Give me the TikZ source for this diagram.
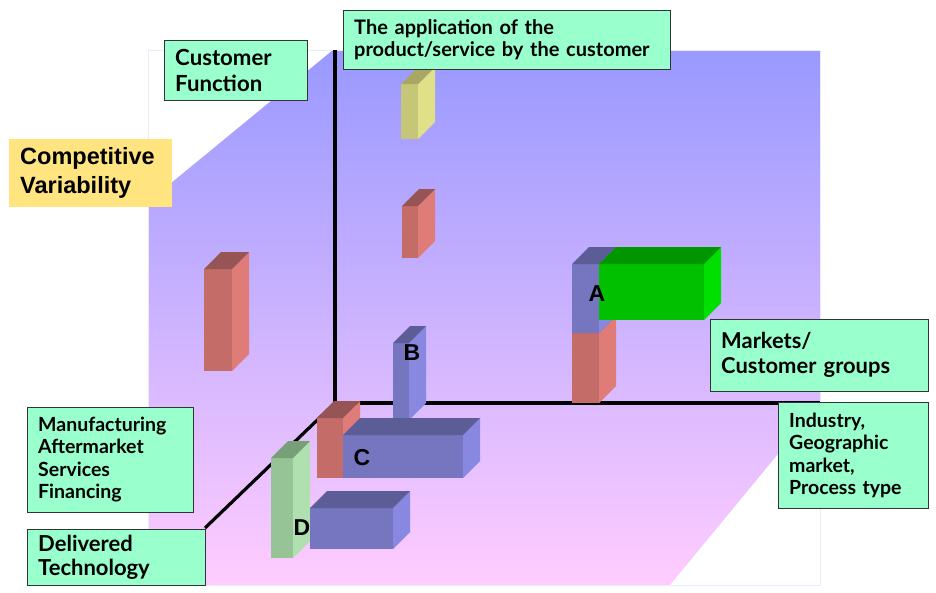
\documentclass[tikz,border=0pt]{standalone}
\usepackage{fontspec}
\usepackage{tikz}
\usetikzlibrary{calc}
\newfontfamily\boxfont{Lato}
\newfontfamily\arialfont{Liberation Sans}
\definecolor{boxgreen}{RGB}{153,255,204}
\definecolor{boxyellow}{RGB}{255,228,128}
\definecolor{wallblue}{RGB}{153,153,255}
\definecolor{floorpink}{RGB}{255,204,255}
\definecolor{redF}{RGB}{196,108,104}
\definecolor{redS}{RGB}{224,124,120}
\definecolor{redT}{RGB}{150,84,84}
\definecolor{blueF}{RGB}{117,117,192}
\definecolor{blueS}{RGB}{136,136,224}
\definecolor{blueT}{RGB}{92,92,150}
\definecolor{greenF}{RGB}{0,192,0}
\definecolor{greenS}{RGB}{0,224,0}
\definecolor{greenT}{RGB}{0,150,0}
\definecolor{yellowF}{RGB}{198,198,120}
\definecolor{yellowS}{RGB}{224,224,136}
\definecolor{yellowT}{RGB}{168,168,100}
\definecolor{mintF}{RGB}{150,196,150}
\definecolor{mintS}{RGB}{176,224,176}
\definecolor{mintT}{RGB}{120,160,120}
% front at (#1,#2), width #3, height #4, colour set #5
\newcommand{\drawcuboid}[5]{
    \fill[#5F] (#1, #2) rectangle ++(#3, #4);
    \fill[#5S] (#1+#3, #2) -- ++(17, -17) -- ++(0, #4) -- ++(-17, 17) -- cycle;
    \fill[#5T] (#1, #2) -- ++(17, -17) -- ++(#3, 0) -- ++(-17, 17) -- cycle;
}
\tikzset{
    gbox/.style={draw=black!80, fill=boxgreen, anchor=north west, align=left,
        inner xsep=11pt, inner ysep=0pt},
    letter/.style={font=\arialfont\bfseries\fontsize{23}{23}\selectfont, inner sep=0pt}
}

\begin{document}
\begin{tikzpicture}[x=1pt, y=-1pt]
    \useasboundingbox (0, 0) rectangle (936, 592);

    % Draw walls and floor
    \shade[top color=wallblue, bottom color=floorpink]
        (148, 202) -- (333, 50) -- (820, 50) -- (820, 403) -- (670, 585) -- (148, 585) -- cycle;
    \draw[blue!8, thin] (148, 50) rectangle (820, 585);

    % Draw axes
    \coordinate (O) at (335, 403);
    \coordinate (up) at (335, 50);
    \coordinate (right) at (820, 403);
    \coordinate (front) at (205, 528);
    \draw[line width=3.2pt] (up) -- (O) -- (right);
    \draw[line width=3.2pt] (O) -- (front);

    % Draw cuboids
    \drawcuboid{401}{84}{17}{55}{yellow}
    \drawcuboid{402}{206}{16}{52}{red}
    \drawcuboid{204}{269}{28}{102}{red}
    \drawcuboid{572}{333}{27}{70}{red}
    \drawcuboid{572}{264}{27}{69}{blue}
    \drawcuboid{599}{264}{105}{56}{green}
    \drawcuboid{393}{343}{16}{77}{blue}
    \drawcuboid{317}{418}{26}{60}{red}
    \drawcuboid{343}{435}{120}{43}{blue}
    \drawcuboid{271}{458}{22}{100}{mint}
    \drawcuboid{310}{508}{83}{41}{blue}

    \node[letter] (A) at (597, 294) {A};
    \node[letter] (B) at (412, 353) {B};
    \node[letter] (C) at (362, 458) {C};
    \node[letter] (D) at (302, 528) {D};

    % Draw labels
    \node[gbox, text width=121pt, minimum height=60pt,
        font=\boxfont\bfseries\fontsize{22.2}{26}\selectfont] (cusfun) at (164, 40)
        {Customer\\Function};
    \node[gbox, text width=305pt, minimum height=59pt,
        font=\boxfont\bfseries\fontsize{20}{21.5}\selectfont] (appl) at (343, 10)
        {The application of the\\product/service by the customer};
    \node[fill=boxyellow, anchor=north west, align=left, inner xsep=11pt, text width=141pt,
        minimum height=68pt, font=\arialfont\bfseries\fontsize{23.5}{29}\selectfont] (compvar) at (9, 139)
        {Competitive\\Variability};
    \node[gbox, text width=196pt, minimum height=72pt,
        font=\boxfont\bfseries\fontsize{21.9}{25}\selectfont] (markets) at (710, 319)
        {Markets/\\Customer groups};
    \node[gbox, text width=128pt, minimum height=106pt,
        font=\boxfont\bfseries\fontsize{19.5}{22.5}\selectfont] (industry) at (778, 402)
        {Industry,\\Geographic\\market,\\Process type};
    \node[gbox, text width=144pt, minimum height=105pt,
        font=\boxfont\bfseries\fontsize{19.5}{22.5}\selectfont] (manuf) at (27, 407)
        {Manufacturing\\Aftermarket\\Services\\Financing};
    \node[gbox, text width=156pt, minimum height=56pt,
        font=\boxfont\bfseries\fontsize{22}{24}\selectfont] (deliv) at (27, 529)
        {Delivered\\Technology};
\end{tikzpicture}
\end{document}
